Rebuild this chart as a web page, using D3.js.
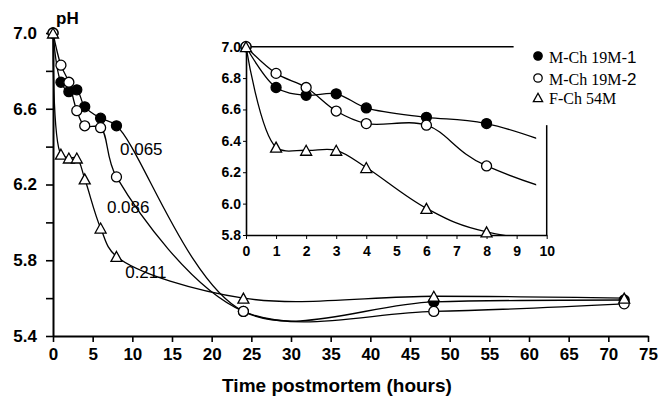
<!DOCTYPE html>
<html>
<head>
<meta charset="utf-8">
<script src="https://cdn.jsdelivr.net/npm/d3@7"></script>
<style>
  body { margin: 0; background: #fff; }
  svg { display: block; }
</style>
</head>
<body>
<svg width="659" height="403"></svg>
<script>
// pH decline postmortem: main chart (0-75 h) with an inset zoom of the first 10 h

var hours = [0, 1, 2, 3, 4, 6, 8, 24, 48, 72];
var mch1 = [7.0, 6.74, 6.69, 6.70, 6.61, 6.55, 6.51, 5.53, 5.58, 5.59];
var mch2 = [7.0, 6.83, 6.74, 6.59, 6.51, 6.50, 6.24, 5.53, 5.53, 5.57];
var fch  = [7.0, 6.36, 6.34, 6.34, 6.23, 5.97, 5.82, 5.60, 5.61, 5.60];
var seriesNames = ["M-Ch 19M", "M-Ch 19M", "F-Ch 54M"];
var seriesSuffix = ["-1", "-2", ""];
var seriesMarks = ["filled", "open", "triangle"];

var mainXTicks = d3.range(0, 76, 5);
var mainYTicks = [5.4, 5.6, 5.8, 6.0, 6.2, 6.4, 6.6, 6.8, 7.0];
var mainYLabels = [5.4, 5.8, 6.2, 6.6, 7.0];
var insetXTicks = d3.range(0, 11, 1);
var insetYTicks = [5.8, 6.0, 6.2, 6.4, 6.6, 6.8, 7.0];

// slope labels on the main chart, anchored in data units (hours, pH)
var slopeLabels = ["0.065", "0.086", "0.211"];
var slopeAt = [[8.45, 6.356], [6.8, 6.05], [9.1, 5.706]];

var svg = d3.select("svg");
var font = "'Liberation Sans', Arial, sans-serif";

var series = [mch1, mch2, fch].map(function(vals, i) {
  return { mark: seriesMarks[i], pts: hours.map(function(h, j) { return [h, vals[j]]; }) };
});

// ---- main chart ----
var x = d3.scaleLinear().domain([0, 75]).range([53, 648]);
var y = d3.scaleLinear().domain([5.4, 7.0]).range([336, 33]);

var gx = svg.append("g")
    .attr("transform", "translate(0," + y(5.4) + ")")
    .call(d3.axisBottom(x).tickValues(mainXTicks).tickSize(6).tickSizeOuter(0).tickPadding(6));
var gy = svg.append("g")
    .attr("transform", "translate(" + x(0) + ",0)")
    .call(d3.axisLeft(y).tickValues(mainYTicks).tickSize(7).tickSizeOuter(0).tickPadding(9)
      .tickFormat(function(d) { return mainYLabels.some(function(v) { return Math.abs(v - d) < 1e-6; }) ? d3.format(".1f")(d) : ""; }));
[gx, gy].forEach(function(g) {
  g.attr("font-family", font).attr("font-size", 17).attr("font-weight", "bold");
  g.select(".domain").attr("stroke-width", 2);
  g.selectAll(".tick line").attr("stroke-width", 1.6);
  g.selectAll("text").attr("fill", "#000");
});

svg.append("text").attr("x", 56).attr("y", 24)
  .attr("font-family", font).attr("font-size", 17).attr("font-weight", "bold").text("pH");

svg.append("text").attr("x", 337).attr("y", 392).attr("text-anchor", "middle")
  .attr("font-family", font).attr("font-size", 19).attr("font-weight", "bold")
  .text("Time postmortem (hours)");

var mainLine = d3.line().curve(d3.curveCatmullRom)
  .x(function(d) { return x(d[0]); }).y(function(d) { return y(d[1]); });

var gMain = svg.append("g");
series.forEach(function(s) {
  gMain.append("path").attr("d", mainLine(s.pts))
    .attr("fill", "none").attr("stroke", "#000").attr("stroke-width", 1.3);
});
series.forEach(function(s) { drawMarks(gMain, s, x, y); });

slopeLabels.forEach(function(t, i) {
  svg.append("text").attr("x", x(slopeAt[i][0])).attr("y", y(slopeAt[i][1]))
    .attr("font-family", font).attr("font-size", 17).text(t);
});

// ---- inset ----
var xi = d3.scaleLinear().domain([0, 10]).range([246, 546.7]);
var yi = d3.scaleLinear().domain([5.8, 7.0]).range([235, 46.7]);

var gix = svg.append("g")
    .attr("transform", "translate(0," + yi(5.8) + ")")
    .call(d3.axisBottom(xi).tickValues(insetXTicks).tickSize(4).tickSizeOuter(0).tickPadding(7));
var giy = svg.append("g")
    .attr("transform", "translate(" + xi(0) + ",0)")
    .call(d3.axisLeft(yi).tickValues(insetYTicks).tickSize(3).tickSizeOuter(0).tickPadding(2)
      .tickFormat(d3.format(".1f")));
[gix, giy].forEach(function(g) {
  g.attr("font-family", font).attr("font-size", 14).attr("font-weight", "bold");
  g.select(".domain").attr("stroke-width", 1.6);
  g.selectAll("text").attr("fill", "#000");
});

// frame pieces of the inset
svg.append("line").attr("x1", xi(0)).attr("x2", xi(8.9)).attr("y1", yi(7.0)).attr("y2", yi(7.0))
  .attr("stroke", "#000").attr("stroke-width", 1.5);
svg.append("line").attr("x1", xi(10)).attr("x2", xi(10)).attr("y1", yi(6.5)).attr("y2", yi(5.8))
  .attr("stroke", "#000").attr("stroke-width", 1.5);

svg.append("clipPath").attr("id", "insetClip").append("rect")
  .attr("x", xi(0) - 2).attr("y", yi(7.1))
  .attr("width", xi(9.65) - xi(0) + 2).attr("height", yi(5.8) - yi(7.1));

var insetLine = d3.line().curve(d3.curveCatmullRom)
  .x(function(d) { return xi(d[0]); }).y(function(d) { return yi(d[1]); });

var gIn = svg.append("g");
var gInLines = gIn.append("g").attr("clip-path", "url(#insetClip)");
series.forEach(function(s) {
  gInLines.append("path").attr("d", insetLine(s.pts))
    .attr("fill", "none").attr("stroke", "#000").attr("stroke-width", 1.3);
});
series.forEach(function(s) {
  drawMarks(gIn, { mark: s.mark, pts: s.pts.filter(function(d) { return d[0] <= 10; }) }, xi, yi);
});

// ---- legend ----
var serif = "'Liberation Serif', 'Times New Roman', serif";
seriesNames.forEach(function(name, i) {
  var ly = [56, 78, 97.5][i];
  var g = svg.append("g").attr("transform", "translate(538," + ly + ")");
  marker(g, seriesMarks[i], 4.2);
  var t = g.append("text").attr("x", 11).attr("y", 6.5)
    .attr("font-family", serif).attr("font-size", 16).text(name);
  if (seriesSuffix[i]) {
    t.append("tspan").attr("font-family", font).attr("font-size", 17).text(seriesSuffix[i]);
  }
});

function drawMarks(g, s, sx, sy) {
  s.pts.forEach(function(d) {
    var m = g.append("g").attr("transform", "translate(" + sx(d[0]) + "," + sy(d[1]) + ")");
    marker(m, s.mark, 5);
  });
}

function marker(g, kind, r) {
  if (kind === "triangle") {
    g.append("path").attr("d", "M0," + (-r) + "L" + (r * 1.1) + "," + r + "L" + (-r * 1.1) + "," + r + "Z")
      .attr("fill", "#fff").attr("stroke", "#000").attr("stroke-width", 1.3);
  } else {
    g.append("circle").attr("r", r)
      .attr("fill", kind === "filled" ? "#000" : "#fff")
      .attr("stroke", "#000").attr("stroke-width", 1.3);
  }
}
</script>
</body>
</html>
